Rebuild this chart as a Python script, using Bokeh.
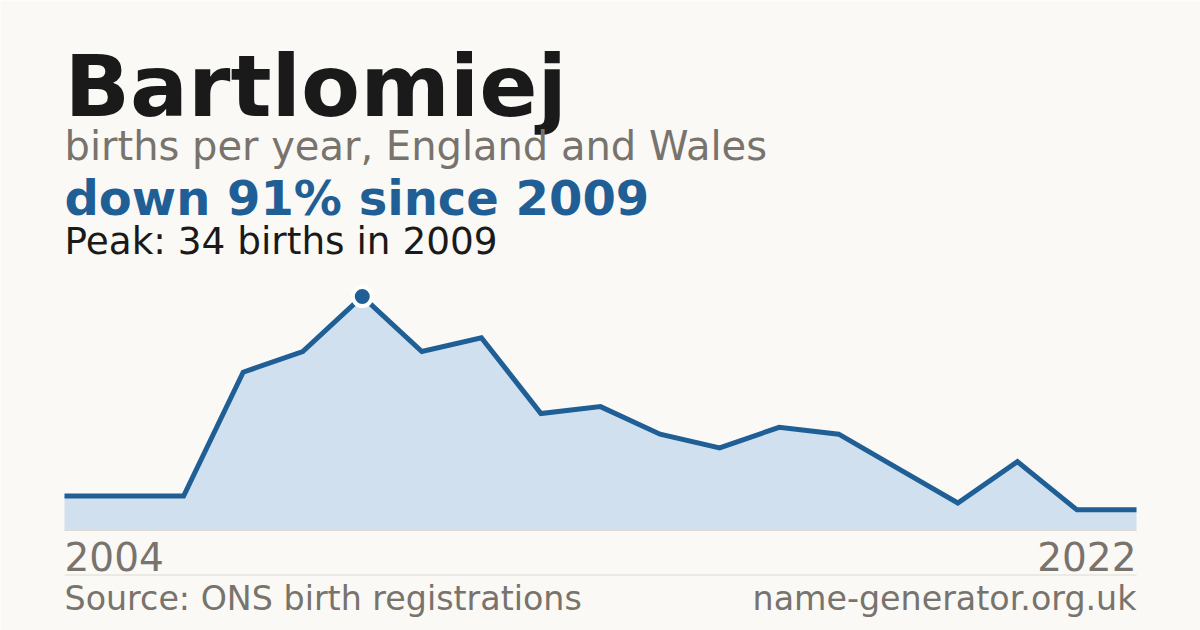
from bokeh.plotting import figure
from bokeh.models import Range1d, Label
from bokeh.embed import file_html
from bokeh.resources import INLINE

# ---- data ----
years = [2004, 2005, 2006, 2007, 2008, 2009, 2010, 2011, 2012, 2013,
         2014, 2015, 2016, 2017, 2018, 2019, 2020, 2021, 2022]
births = [5, 5, 5, 23, 26, 34, 26, 28, 17, 18,
          14, 12, 15, 14, 9, 4, 10, 3, 3]

title_text = "Bartlomiej"
subtitle_text = "births per year, England and Wales"
change_text = "down 91% since 2009"
peak_text = "Peak: 34 births in 2009"
start_label = "2004"
end_label = "2022"
source_text = "Source: ONS birth registrations"
site_text = "name-generator.org.uk"

# ---- style / layout (pixels) ----
BG = "#faf9f5"
DARK = "#1a1a1a"
GREY = "#78736c"
BLUE = "#1f5f96"
FILL = "#d0e0ef"
RULE = "#dedad3"
FONT = "DejaVu Sans"

W, H = 1200, 630
PLOT_L, PLOT_R = 64, 1136      # chart left / right edge
BASE_Y, PEAK_Y = 530, 296      # pixel row of zero and of the peak value
BASELINE_FIX = 0.34            # renderer puts the alphabetic baseline this much (x size) lower

peak_val = max(births)
peak_year = years[births.index(peak_val)]
xs = (PLOT_R - PLOT_L) / (years[-1] - years[0])   # px per year
ys = (BASE_Y - PEAK_Y) / peak_val                 # px per birth

x_start = years[0] - PLOT_L / xs
x_end = x_start + W / xs
y_start = -(H - BASE_Y) / ys
y_end = y_start + H / ys


def dx(px):
    return x_start + px / xs


def dy(py):
    return y_start + (H - py) / ys


p = figure(width=W, height=H, output_backend="svg", toolbar_location=None,
           x_range=Range1d(x_start, x_end), y_range=Range1d(y_start, y_end),
           x_axis_location=None, y_axis_location=None,
           min_border_left=0, min_border_right=0,
           min_border_top=0, min_border_bottom=0)
p.background_fill_color = BG
p.border_fill_color = BG
p.outline_line_color = None
p.xgrid.visible = False
p.ygrid.visible = False

p.varea(x=years, y1=[0] * len(births), y2=births, fill_color=FILL, fill_alpha=1.0)
p.segment(x0=[years[0]], y0=[0], x1=[years[-1]], y1=[0], line_color=RULE, line_width=1)
p.line(x=years, y=births, line_color=BLUE, line_width=5, line_join="miter")
p.scatter(x=[peak_year], y=[peak_val], size=19, marker="circle",
          fill_color=BLUE, line_color="#ffffff", line_width=4)

# separator rule above footer
p.segment(x0=[years[0]], y0=[dy(574.5)], x1=[years[-1]], y1=[dy(574.5)],
          line_color=RULE, line_width=1)


def lab(text, px, py, size, color, bold=False, align="left"):
    p.add_layout(Label(x=dx(px), y=dy(py - BASELINE_FIX * size), text=text,
                       text_font=FONT, text_font_size=f"{size}px", text_color=color,
                       text_font_style="bold" if bold else "normal",
                       text_align=align, text_baseline="alphabetic"))


lab(title_text, 64, 115, 86, DARK, bold=True)
lab(subtitle_text, 64, 159, 40, GREY)
lab(change_text, 64, 214, 48, BLUE, bold=True)
lab(peak_text, 64, 253, 37.4, DARK)
lab(start_label, 64, 569, 39, GREY)
lab(end_label, 1136, 569, 39, GREY, align="right")
lab(source_text, 64, 609, 33.3, GREY)
lab(site_text, 1136, 609, 33.3, GREY, align="right")

open("out.html", "w").write(file_html(p, INLINE))
